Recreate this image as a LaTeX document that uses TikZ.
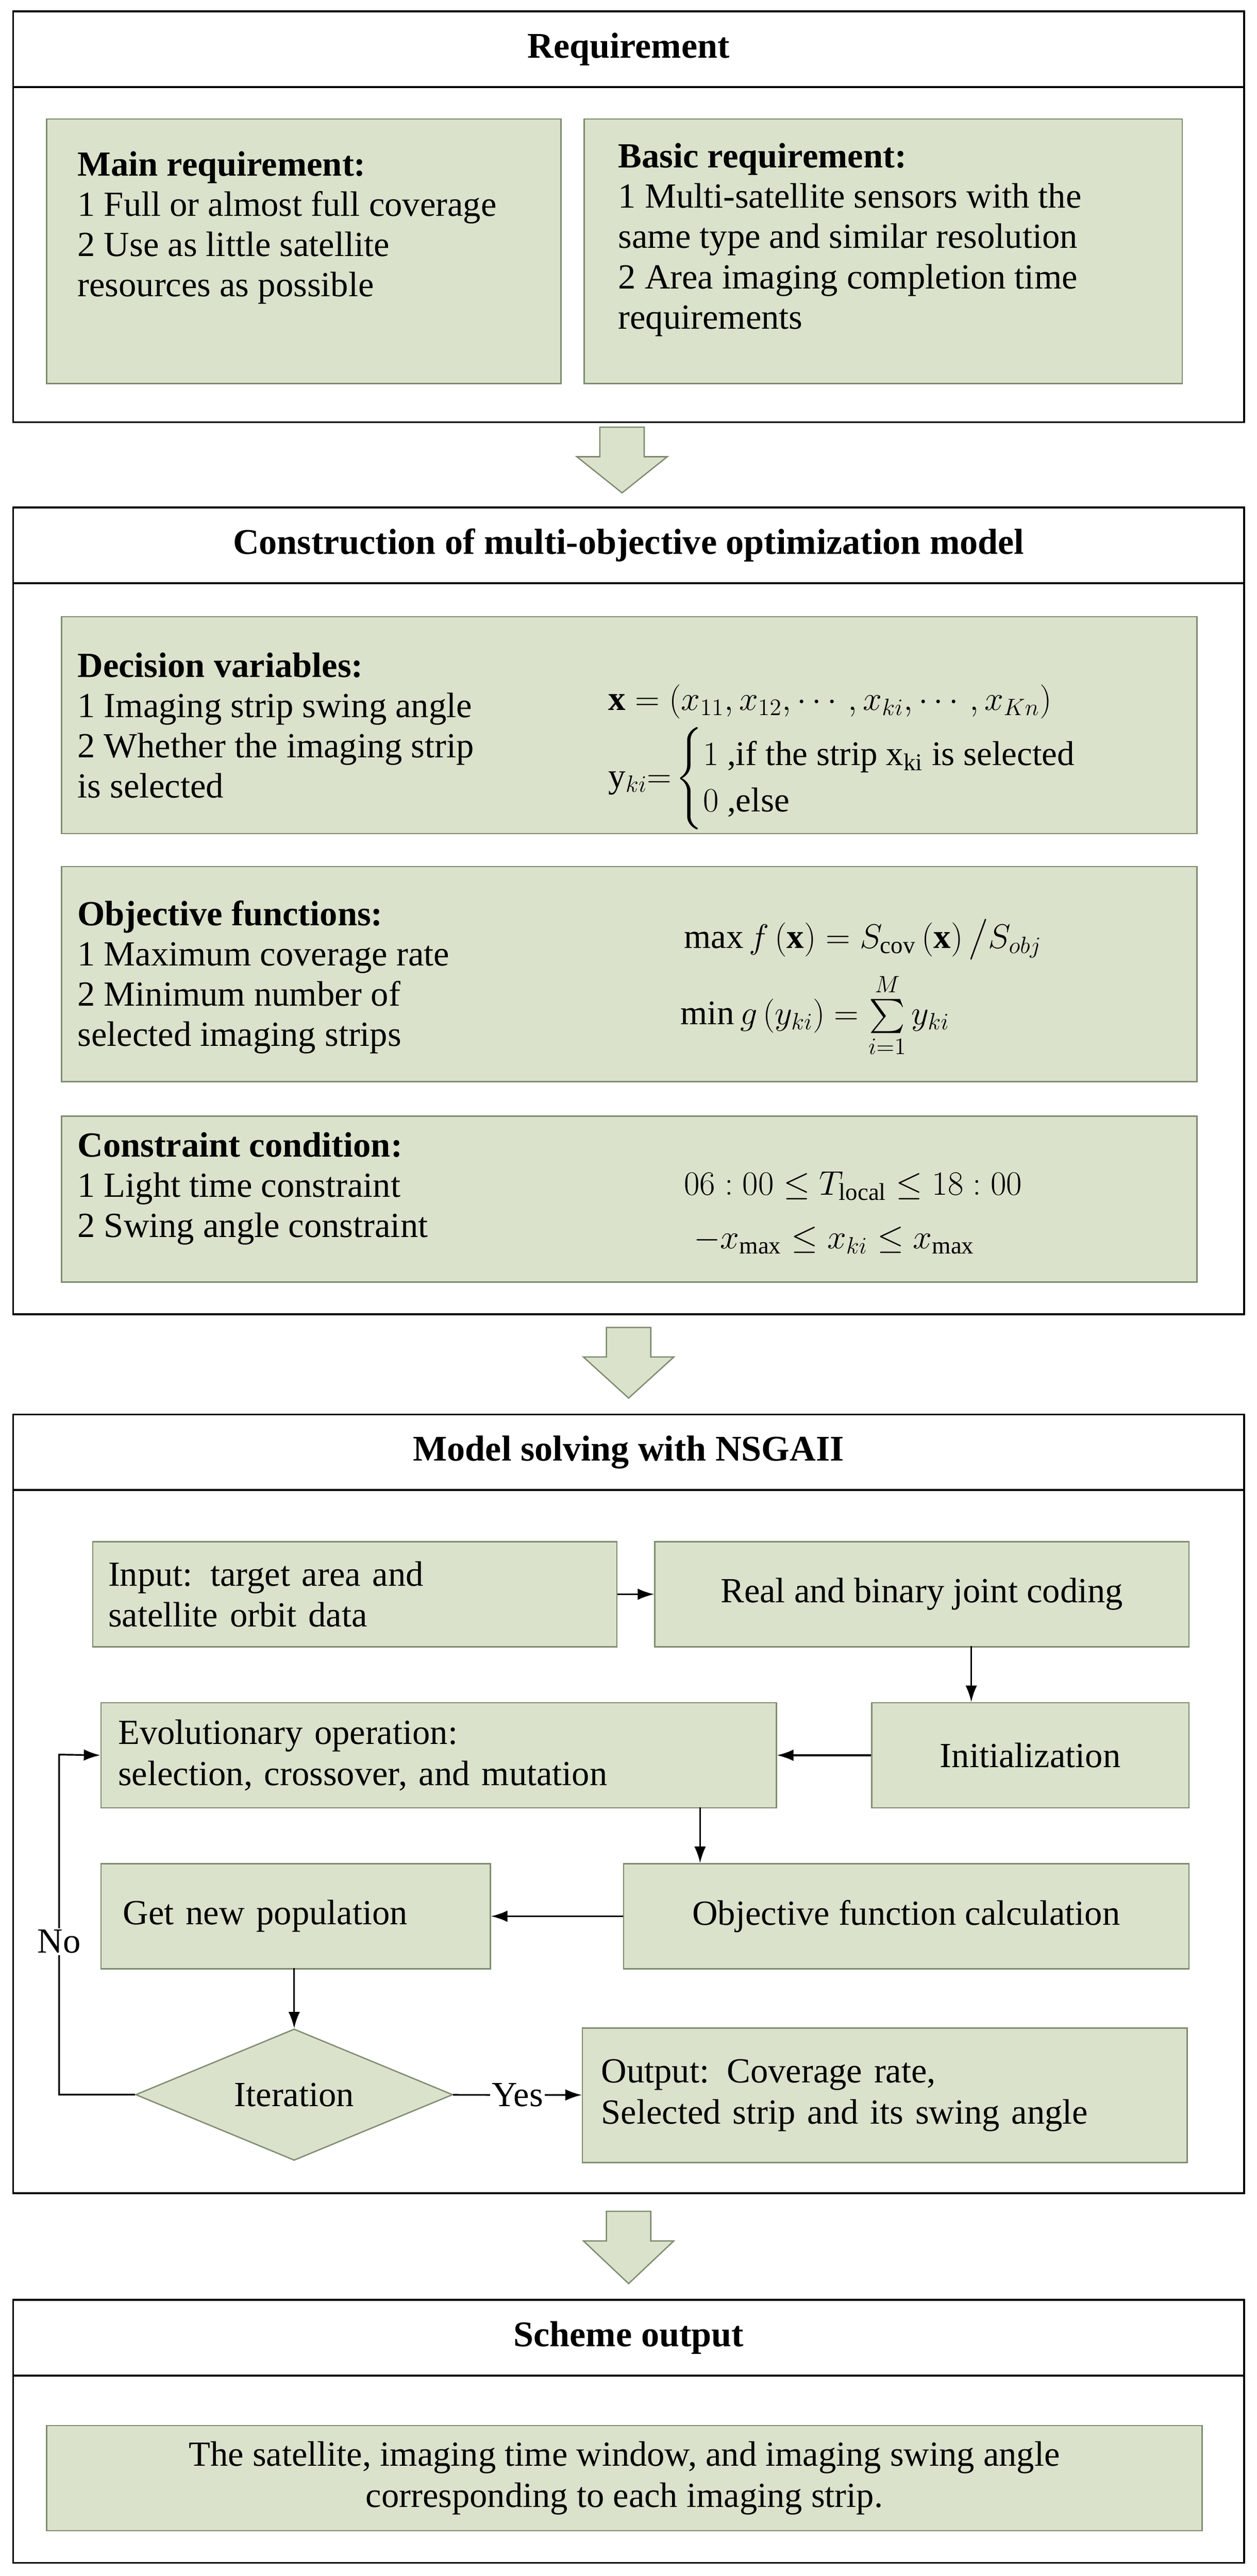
\documentclass[tikz,border=0pt]{standalone}
\usepackage{amsmath}
\usepackage{fontspec}
\setmainfont{Liberation Serif}
\usetikzlibrary{shapes.geometric,arrows.meta}
\definecolor{gfill}{HTML}{DAE2CC}
\definecolor{gdraw}{HTML}{7F8C70}
\begin{document}
\begin{tikzpicture}[x=1pt,y=-1pt,
  outer/.style={draw=black,line width=1.2pt},
  inner/.style={draw=gdraw,fill=gfill,line width=0.8pt},
  ttl/.style={font=\fontsize{22}{26}\selectfont\bfseries},
  txt/.style={font=\fontsize{21.5}{24.5}\selectfont,align=left,anchor=north west,inner sep=0pt},
  box/.style={inner,font=\fontsize{21.5}{25}\selectfont,align=left,inner sep=0pt},
  mth/.style={anchor=west,font=\fontsize{21}{25}\selectfont,inner sep=0pt},
  arr/.style={-{Latex[length=10pt,width=7pt]},line width=1pt},
  barrow/.style={draw=gdraw,fill=gfill,line width=0.8pt}]
\useasboundingbox (0,0) rectangle (764.6,1568);
\fill[white] (0,0) rectangle (764.6,1568);
\newcommand{\blockarrow}[3]{% x center, ytop, ybottom
  \draw[barrow] (#1-13.5,#2) -- (#1+13.5,#2) -- (#1+13.5,#2+18) -- (#1+27.5,#2+18) -- (#1,#3) -- (#1-27.5,#2+18) -- (#1-13.5,#2+18) -- cycle;}
% Box 1
\draw[outer] (8,7) rectangle (757,257); \draw[outer] (8,53) -- (757,53);
\node[ttl] (t1) at (382.5,30) {Requirement};
\node[inner,minimum width=313,minimum height=161,anchor=north west] (r1) at (28,72) {};
\node[txt] (r1t) at (47,92) {\textbf{Main requirement:}\\1 Full or almost full coverage\\2 Use as little satellite\\resources as possible};
\node[inner,minimum width=364,minimum height=161,anchor=north west] (r2) at (355,72) {};
\node[txt] (r2t) at (376,87) {\textbf{Basic requirement:}\\1 Multi-satellite sensors with the\\same type and similar resolution\\2 Area imaging completion time\\requirements};
\blockarrow{378.5}{260}{300}
% Box 2
\draw[outer] (8,309) rectangle (757,800); \draw[outer] (8,355) -- (757,355);
\node[ttl] (t2) at (382.5,332) {Construction of multi-objective optimization model};
\node[inner,minimum width=691,minimum height=132,anchor=north west] (d) at (37,375) {};
\node[txt] (dt) at (47,397) {\textbf{Decision variables:}\\1 Imaging strip swing angle\\2 Whether the imaging strip\\is selected};
\node[mth] (dm1) at (370,427) {$\mathbf{x}=\left(x_{11},x_{12},\cdots,x_{ki},\cdots,x_{Kn}\right)$};
\node[mth] (dm2) at (370,474) {y$_{ki}$$=\!\begin{cases}1\text{ ,if the strip x$_{\mathrm{ki}}$ is selected}\\[-2pt]0\text{ ,else}\end{cases}$};
\node[inner,minimum width=691,minimum height=131,anchor=north west] (o) at (37,527) {};
\node[txt] (ot) at (47,548) {\textbf{Objective functions:}\\1 Maximum coverage rate\\2 Minimum number of\\selected imaging strips};
\node[mth] (om1) at (416,572) {$\max f\left(\mathbf{x}\right)=S_{\mathrm{cov}}\left(\mathbf{x}\right)\big/S_{obj}$};
\node[mth] (om2) at (414,618) {$\min g\left(y_{ki}\right)=\sum\limits_{i=1}^{M}y_{ki}$};
\node[inner,minimum width=691,minimum height=101,anchor=north west] (c) at (37,679) {};
\node[txt] (ct) at (47,689) {\textbf{Constraint condition:}\\1 Light time constraint\\2 Swing angle constraint};
\node[mth] (cm1) at (416,722) {$06:00\leq T_{\mathrm{local}}\leq 18:00$};
\node[mth] (cm2) at (422,755) {$-x_{\max}\leq x_{ki}\leq x_{\max}$};
\blockarrow{382.5}{808}{851}
% Box 3
\draw[outer] (8,861) rectangle (757,1335); \draw[outer] (8,907) -- (757,907);
\node[ttl] (t3) at (382.5,884) {Model solving with NSGAII};
\node[box,minimum width=319,minimum height=64,anchor=north west,text width=300] (in) at (56,938) {Input: target area and\\satellite orbit data};
\node[box,minimum width=325,minimum height=64,anchor=north west] (real) at (398,938) {Real and binary joint coding};
\node[box,minimum width=411,minimum height=64,anchor=north west,text width=390] (evo) at (61,1036) {Evolutionary operation:\\selection, crossover, and mutation};
\node[box,minimum width=193,minimum height=64,anchor=north west] (init) at (530,1036) {Initialization};
\node[box,minimum width=237,minimum height=64,anchor=north west,text width=210] (get) at (61,1134) {Get new population};
\node[box,minimum width=344,minimum height=64,anchor=north west] (obj) at (379,1134) {Objective function calculation};
\node[diamond,inner,aspect=2.4,minimum width=193,minimum height=80,inner sep=0pt,font=\fontsize{21.5}{25}\selectfont] (it) at (179,1275) {Iteration};
\node[box,minimum width=368,minimum height=82,anchor=north west,text width=345] (out) at (354,1234) {Output: Coverage rate,\\Selected strip and its swing angle};
\draw[arr] (in) -- (real);
\draw[arr] (591,1002) -- (591,1036);
\draw[arr] (init) -- (evo);
\draw[arr] (426,1100) -- (426,1134);
\draw[arr] (obj) -- (get);
\draw[arr] (179,1198) -- (it.north);
\draw[arr] (it) -- node[fill=white,inner sep=1pt,font=\fontsize{21.5}{25}\selectfont] {Yes} (out);
\draw[arr] (it.west) -- (36,1275) -- node[pos=0.45,fill=white,inner sep=1pt,font=\fontsize{21.5}{25}\selectfont] {No} (36,1068) -- (evo.west);
\blockarrow{382.5}{1346}{1390}
% Box 4
\draw[outer] (8,1400) rectangle (757,1560); \draw[outer] (8,1446) -- (757,1446);
\node[ttl] (t4) at (382.5,1423) {Scheme output};
\node[box,minimum width=703,minimum height=64,anchor=north west,align=center] (sch) at (28,1476) {The satellite, imaging time window, and imaging swing angle\\corresponding to each imaging strip.};
\end{tikzpicture}
\end{document}
